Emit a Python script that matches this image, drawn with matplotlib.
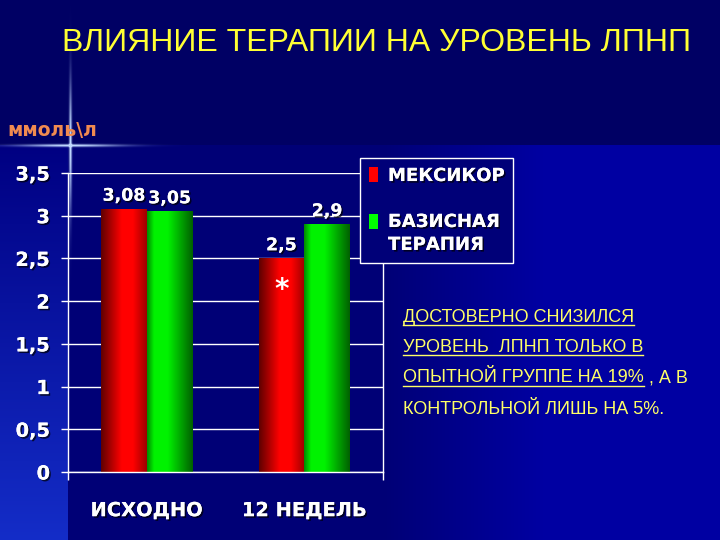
import numpy as np
import matplotlib
matplotlib.use("Agg")
import matplotlib.pyplot as plt
import matplotlib.patheffects as pe
from matplotlib.lines import Line2D
from matplotlib.patches import Rectangle
from matplotlib.legend_handler import HandlerPatch

# ---------------- data ----------------
categories = ["ИСХОДНО", "12 НЕДЕЛЬ"]
series_names = ["МЕКСИКОР", "БАЗИСНАЯ\nТЕРАПИЯ"]
mexicor = [3.08, 2.5]
basic = [3.05, 2.9]
value_labels_mex = ["3,08", "2,5"]
value_labels_basic = ["3,05", "2,9"]
yticks = [0, 0.5, 1, 1.5, 2, 2.5, 3, 3.5]
ytick_labels = ["0", "0,5", "1", "1,5", "2", "2,5", "3", "3,5"]
title = "ВЛИЯНИЕ ТЕРАПИИ НА УРОВЕНЬ ЛПНП"
unit = "ммоль\\л"
note_lines = [("ДОСТОВЕРНО СНИЗИЛСЯ", ""),
              ("УРОВЕНЬ  ЛПНП ТОЛЬКО В", ""),
              ("ОПЫТНОЙ ГРУППЕ НА 19%", " , А В"),
              ("", "КОНТРОЛЬНОЙ ЛИШЬ НА 5%.")]

W, H = 720, 540
fig = plt.figure(figsize=(W / 100, H / 100), dpi=100)

# ---------------- background ----------------
yy, xx = np.mgrid[0:H, 0:W].astype(float)
img = np.zeros((H, W, 3))
top = np.array([0, 0, 100]) / 255.0
img[:] = top
lower = yy >= 145
t = np.clip((xx - 383) / 160.0, 0, 1)
c_nav = np.array([0, 0, 118]) / 255.0
c_blue = np.array([0, 0, 162]) / 255.0
for k in range(3):
    img[..., k] = np.where(lower, c_nav[k] * (1 - t) + c_blue[k] * t, img[..., k])
left = lower & (xx < 68)
s = np.clip((yy - 145) / 395.0, 0, 1)
c_l0 = np.array([0, 0, 130]) / 255.0
c_l1 = np.array([20, 45, 200]) / 255.0
for k in range(3):
    img[..., k] = np.where(left, c_l0[k] * (1 - s) + c_l1[k] * s, img[..., k])
glow_v = np.exp(-((xx - 70) / 1.4) ** 2) * np.exp(-((yy - 145) / 60.0) ** 2)
glow_h = np.exp(-((yy - 145) / 1.4) ** 2) * np.exp(-((xx - 70) / 50.0) ** 2)
glow = np.clip(glow_v + glow_h, 0, 1)
spark = np.array([0.75, 0.85, 1.0])
for k in range(3):
    img[..., k] = img[..., k] * (1 - glow) + spark[k] * glow
bgax = fig.add_axes([0, 0, 1, 1], zorder=-10)
bgax.imshow(img, aspect="auto", extent=(0, W, H, 0))
bgax.set_xlim(0, W)
bgax.set_ylim(H, 0)
bgax.axis("off")

# ---------------- chart ----------------
ax_l, ax_r, ax_t, ax_b = 68, 383, 173, 472
ax = fig.add_axes([ax_l / W, 1 - ax_b / H, (ax_r - ax_l) / W, (ax_b - ax_t) / H])
ax.set_facecolor("none")

x = np.arange(len(categories))
bw = 0.29
bars1 = ax.bar(x - bw / 2, mexicor, bw, color="#ff0000", label=series_names[0], zorder=2)
bars2 = ax.bar(x + bw / 2, basic, bw, color="#00ff00", label=series_names[1], zorder=2)

def gradient(base, prof_x, prof_v):
    tt = np.linspace(0, 1, 64)
    v = np.interp(tt, prof_x, prof_v)
    g = np.zeros((2, 64, 3))
    for k in range(3):
        g[:, :, k] = base[k] * v
    return g

red_grad = gradient([1, 0, 0], [0, 0.45, 0.7, 1], [0.38, 1.0, 1.0, 0.62])
green_grad = gradient([0, 1, 0], [0, 0.15, 0.45, 1], [0.55, 0.95, 0.95, 0.38])
for bars, grad in ((bars1, red_grad), (bars2, green_grad)):
    for p in bars:
        x0 = p.get_x()
        im = ax.imshow(grad, extent=(x0, x0 + p.get_width(), 0, p.get_height()),
                       aspect="auto", zorder=2.5, interpolation="bilinear")
        im.set_clip_path(p)

ax.set_xlim(-0.5, 1.5)
ax.set_ylim(0, 3.5)

shadow = [pe.withSimplePatchShadow(offset=(1.2, -1.2), shadow_rgbFace="black", alpha=0.7), pe.Normal()]

ax.set_yticks(yticks)
ax.set_yticklabels(ytick_labels, fontfamily="DejaVu Sans", fontweight="bold", fontsize=14, color="white")
ax.tick_params(axis="y", length=5, width=1, color="white", pad=8, direction="out")
ax.set_xticks(x)
ax.set_xticklabels(categories, fontfamily="DejaVu Sans", fontweight="bold", fontsize=14, color="white")
ax.tick_params(axis="x", which="major", length=0, pad=21)
ax.set_xticks([-0.5, 1.5], minor=True)
ax.tick_params(axis="x", which="minor", length=6, width=1, color="white", direction="out")
for lab in ax.get_xticklabels() + ax.get_yticklabels():
    lab.set_path_effects(shadow)

ax.grid(axis="y", color="white", linewidth=1, zorder=1)
ax.set_axisbelow(True)
for side in ("left", "bottom", "right"):
    ax.spines[side].set_color("white")
    ax.spines[side].set_linewidth(1)
ax.spines["top"].set_visible(False)

for bars, labels in ((bars1, value_labels_mex), (bars2, value_labels_basic)):
    for p, lab in zip(bars, labels):
        ax.annotate(lab, (p.get_x() + p.get_width() / 2, p.get_height()),
                    xytext=(0, 3), textcoords="offset points", ha="center", va="bottom",
                    fontfamily="DejaVu Sans", fontweight="bold", fontsize=12.5, color="white",
                    path_effects=shadow, zorder=5)

p = bars1[1]
ax.annotate("*", (p.get_x() + p.get_width() / 2, p.get_height()),
            xytext=(0, -23), textcoords="offset points", ha="center", va="center",
            fontfamily="DejaVu Sans", fontweight="bold", fontsize=20, color="white", zorder=5)

# legend: marker of the two-line entry sits beside its first line
def make_patch_func(shift):
    def f(legend, orig_handle, xdescent, ydescent, width, height, fontsize):
        return Rectangle((-xdescent, -ydescent + shift), width, height)
    return f

h1, h2 = bars1.patches[0], bars2.patches[0]
handler_map = {h1: HandlerPatch(patch_func=make_patch_func(0)),
               h2: HandlerPatch(patch_func=make_patch_func(9))}
leg = ax.legend(handles=[h1, h2], labels=series_names, handler_map=handler_map,
                loc="upper left", bbox_to_anchor=(360 / W, 1 - 158 / H), bbox_transform=fig.transFigure,
                frameon=True, fancybox=False, facecolor="#000078", edgecolor="white", framealpha=1,
                handlelength=0.5, handleheight=0.9, handletextpad=0.55, labelspacing=1.55,
                borderpad=0.5, borderaxespad=0,
                prop={"family": "DejaVu Sans", "weight": "bold", "size": 13})
leg.get_frame().set_linewidth(1)
leg.set_zorder(10)
for txt in leg.get_texts():
    txt.set_color("white")
    txt.set_linespacing(1.35)
    txt.set_path_effects(shadow)

# ---------------- texts ----------------
fig.text(62 / W, 1 - 43 / H, title, fontfamily="Liberation Sans", fontsize=23, color="#ffff33",
         va="center", ha="left")
fig.text(7 / W, 1 - 131 / H, unit, fontfamily="DejaVu Sans", fontweight="bold", fontsize=13.5,
         color="#f08a50", va="center", ha="left")

fig.canvas.draw()
renderer = fig.canvas.get_renderer()
note_y = [317, 347, 378, 410]
for (ul, rest), yc in zip(note_lines, note_y):
    xpos = 403
    if ul:
        t1 = fig.text(xpos / W, 1 - yc / H, ul, fontfamily="Liberation Sans", fontsize=13,
                      color="#ffff66", va="center", ha="left")
        bb = t1.get_window_extent(renderer)
        yline = bb.y0 + 1
        fig.add_artist(Line2D([bb.x0 / W, bb.x1 / W], [yline / H, yline / H],
                              transform=fig.transFigure, color="#ffff66", linewidth=1))
        xpos = bb.x1
    if rest:
        fig.text(xpos / W, 1 - yc / H, rest, fontfamily="Liberation Sans", fontsize=13,
                 color="#ffff66", va="center", ha="left")

fig.savefig("out.png", dpi=100)
